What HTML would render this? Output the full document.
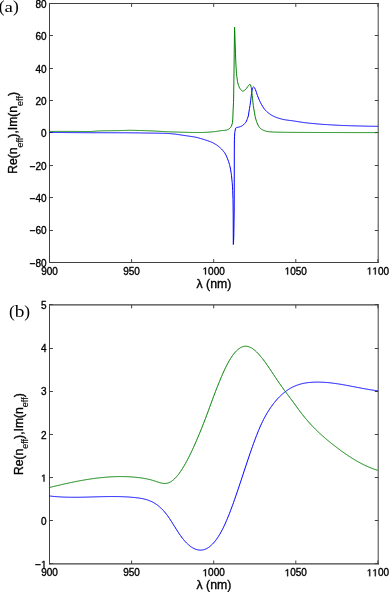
<!DOCTYPE html><html><head><meta charset="utf-8"><style>html,body{margin:0;padding:0;background:#fff;}svg{display:block;will-change:transform;}.t{font-family:"Liberation Sans",sans-serif;font-size:10px;fill:#000;stroke:#000;stroke-width:0.35px;}.l{font-family:"Liberation Sans",sans-serif;font-size:12px;fill:#000;stroke:#000;stroke-width:0.35px;}.s{font-size:9px;stroke-width:0.15px;}.p{font-family:"Liberation Serif",serif;font-size:17px;fill:#000;}</style></head><body>
<svg width="389" height="592" viewBox="0 0 389 592">
<path d="M49.5 3V263M378.2 3V263" fill="none" stroke="#404040" stroke-width="1"/>
<path d="M49.0 3.5H378.7" fill="none" stroke="#404040" stroke-width="1"/>
<path d="M49.0 262.5H378.7" fill="none" stroke="#404040" stroke-width="1"/>
<path d="M49.5 262.5v-3.4M49.5 3.5v3.4M131.6 262.5v-3.4M131.6 3.5v3.4M213.7 262.5v-3.4M213.7 3.5v3.4M295.8 262.5v-3.4M295.8 3.5v3.4M377.9 262.5v-3.4M377.9 3.5v3.4M49.5 3.5h3.4M378.2 3.5h-3.4M49.5 35.5h3.4M378.2 35.5h-3.4M49.5 68.5h3.4M378.2 68.5h-3.4M49.5 100.5h3.4M378.2 100.5h-3.4M49.5 132.5h3.4M378.2 132.5h-3.4M49.5 165.5h3.4M378.2 165.5h-3.4M49.5 197.5h3.4M378.2 197.5h-3.4M49.5 230.5h3.4M378.2 230.5h-3.4M49.5 262.5h3.4M378.2 262.5h-3.4" fill="none" stroke="#404040" stroke-width="1"/>
<text x="49.5" y="274.5" text-anchor="middle" class="t">900</text>
<text x="131.6" y="274.5" text-anchor="middle" class="t">950</text>
<text x="213.7" y="274.5" text-anchor="middle" class="t"> 000</text>
<path transform="translate(202.58,274.5) scale(0.004883,-0.004883)" d="M515 0L515 1237L197 1010L197 1180L530 1409L696 1409L696 0Z" fill="#000" stroke="#000" stroke-width="71.7"/>
<text x="295.8" y="274.5" text-anchor="middle" class="t"> 050</text>
<path transform="translate(284.68,274.5) scale(0.004883,-0.004883)" d="M515 0L515 1237L197 1010L197 1180L530 1409L696 1409L696 0Z" fill="#000" stroke="#000" stroke-width="71.7"/>
<text x="377.9" y="274.5" text-anchor="middle" class="t">  00</text>
<path transform="translate(366.78,274.5) scale(0.004883,-0.004883)" d="M515 0L515 1237L197 1010L197 1180L530 1409L696 1409L696 0Z" fill="#000" stroke="#000" stroke-width="71.7"/>
<path transform="translate(372.34,274.5) scale(0.004883,-0.004883)" d="M515 0L515 1237L197 1010L197 1180L530 1409L696 1409L696 0Z" fill="#000" stroke="#000" stroke-width="71.7"/>
<text x="46.6" y="7.8" text-anchor="end" class="t">80</text>
<text x="46.6" y="40.17" text-anchor="end" class="t">60</text>
<text x="46.6" y="72.55" text-anchor="end" class="t">40</text>
<text x="46.6" y="104.92" text-anchor="end" class="t">20</text>
<text x="46.6" y="137.3" text-anchor="end" class="t">0</text>
<text x="46.6" y="169.68" text-anchor="end" class="t">−20</text>
<text x="46.6" y="202.05" text-anchor="end" class="t">−40</text>
<text x="46.6" y="234.43" text-anchor="end" class="t">−60</text>
<text x="46.6" y="266.8" text-anchor="end" class="t">−80</text>
<text x="213.9" y="288.2" text-anchor="middle" class="l" style="font-size:12.3px">λ (nm)</text>
<text transform="translate(17.0,132.95) rotate(-90)" text-anchor="middle" class="l" style="font-size:12.15px">Re(n<tspan class="s" dy="5.5">eff</tspan><tspan dy="-5.5">),Im(n</tspan><tspan class="s" dy="5.5">eff</tspan><tspan dy="-5.5">)</tspan></text>
<path d="M49.5 304.26V564.52M378.2 304.26V564.52" fill="none" stroke="#404040" stroke-width="1"/>
<path d="M49.0 304.93H378.7" fill="none" stroke="#404040" stroke-width="1.34"/>
<path d="M49.0 563.9H378.7" fill="none" stroke="#404040" stroke-width="1.25"/>
<path d="M49.5 563.9v-3.4M49.5 304.93v3.4M131.6 563.9v-3.4M131.6 304.93v3.4M213.7 563.9v-3.4M213.7 304.93v3.4M295.8 563.9v-3.4M295.8 304.93v3.4M377.9 563.9v-3.4M377.9 304.93v3.4M49.5 304.5h3.4M378.2 304.5h-3.4M49.5 348.5h3.4M378.2 348.5h-3.4M49.5 391.5h3.4M378.2 391.5h-3.4M49.5 434.5h3.4M378.2 434.5h-3.4M49.5 477.5h3.4M378.2 477.5h-3.4M49.5 520.5h3.4M378.2 520.5h-3.4M49.5 563.5h3.4M378.2 563.5h-3.4" fill="none" stroke="#404040" stroke-width="1"/>
<text x="49.5" y="576.2" text-anchor="middle" class="t">900</text>
<text x="131.6" y="576.2" text-anchor="middle" class="t">950</text>
<text x="213.7" y="576.2" text-anchor="middle" class="t"> 000</text>
<path transform="translate(202.58,576.2) scale(0.004883,-0.004883)" d="M515 0L515 1237L197 1010L197 1180L530 1409L696 1409L696 0Z" fill="#000" stroke="#000" stroke-width="71.7"/>
<text x="295.8" y="576.2" text-anchor="middle" class="t"> 050</text>
<path transform="translate(284.68,576.2) scale(0.004883,-0.004883)" d="M515 0L515 1237L197 1010L197 1180L530 1409L696 1409L696 0Z" fill="#000" stroke="#000" stroke-width="71.7"/>
<text x="377.9" y="576.2" text-anchor="middle" class="t">  00</text>
<path transform="translate(366.78,576.2) scale(0.004883,-0.004883)" d="M515 0L515 1237L197 1010L197 1180L530 1409L696 1409L696 0Z" fill="#000" stroke="#000" stroke-width="71.7"/>
<path transform="translate(372.34,576.2) scale(0.004883,-0.004883)" d="M515 0L515 1237L197 1010L197 1180L530 1409L696 1409L696 0Z" fill="#000" stroke="#000" stroke-width="71.7"/>
<text x="46.6" y="309.29" text-anchor="end" class="t">5</text>
<text x="46.6" y="352.37" text-anchor="end" class="t">4</text>
<text x="46.6" y="395.45" text-anchor="end" class="t">3</text>
<text x="46.6" y="438.53" text-anchor="end" class="t">2</text>
<text x="46.6" y="481.62" text-anchor="end" class="t"> </text>
<path transform="translate(41.04,481.62) scale(0.004883,-0.004883)" d="M515 0L515 1237L197 1010L197 1180L530 1409L696 1409L696 0Z" fill="#000" stroke="#000" stroke-width="71.7"/>
<text x="46.6" y="524.7" text-anchor="end" class="t">0</text>
<text x="46.6" y="567.78" text-anchor="end" class="t">− </text>
<path transform="translate(41.04,567.78) scale(0.004883,-0.004883)" d="M515 0L515 1237L197 1010L197 1180L530 1409L696 1409L696 0Z" fill="#000" stroke="#000" stroke-width="71.7"/>
<text x="213.9" y="589.3" text-anchor="middle" class="l" style="font-size:12.3px">λ (nm)</text>
<text transform="translate(22.6,434.2) rotate(-90)" text-anchor="middle" class="l" style="font-size:12.15px">Re(n<tspan class="s" dy="5.5">eff</tspan><tspan dy="-5.5">),Im(n</tspan><tspan class="s" dy="5.5">eff</tspan><tspan dy="-5.5">)</tspan></text>
<polyline points="49.5,132.4 50.5,132.41 51.5,132.42 52.5,132.43 53.5,132.44 54.5,132.45 55.5,132.46 56.5,132.47 57.5,132.48 58.5,132.49 59.5,132.5 60.5,132.51 61.5,132.52 62.5,132.52 63.5,132.53 64.5,132.54 65.5,132.55 66.5,132.56 67.5,132.57 68.5,132.58 69.5,132.58 70.5,132.59 71.5,132.6 72.5,132.61 73.5,132.61 74.5,132.62 75.5,132.63 76.5,132.63 77.5,132.64 78.5,132.65 79.5,132.65 80.5,132.66 81.5,132.67 82.5,132.67 83.5,132.68 84.5,132.68 85.5,132.69 86.5,132.69 87.5,132.69 88.5,132.7 89,132.7 89.5,132.7 90.5,132.71 91.5,132.71 92.5,132.71 93.5,132.71 94.5,132.72 95.5,132.72 96.5,132.72 97.5,132.72 98.5,132.73 99.5,132.73 100.5,132.73 101.5,132.73 102.5,132.73 103.5,132.74 104.5,132.74 105.5,132.74 106.5,132.74 107.5,132.74 108.5,132.74 109.5,132.75 110.5,132.75 111.5,132.75 112.5,132.75 113.5,132.75 114.5,132.75 115.5,132.76 116.5,132.76 117.5,132.76 118.5,132.76 119.5,132.76 120.5,132.77 121.5,132.77 122.5,132.77 123.5,132.78 124.5,132.78 125.5,132.78 126.5,132.79 127.5,132.79 128.5,132.79 129.5,132.8 130,132.8 130.5,132.8 131.5,132.81 132.5,132.82 133.5,132.83 134.5,132.84 135.5,132.85 136.5,132.87 137.5,132.88 138.5,132.9 139.5,132.92 140.5,132.93 141.5,132.95 142.5,132.97 143.5,132.99 144.5,133.01 145.5,133.03 146.5,133.04 147.5,133.06 148.5,133.08 149.5,133.09 150,133.1 150.5,133.11 151.5,133.12 152.5,133.13 153.5,133.14 154.5,133.16 155.5,133.17 156.5,133.18 157.5,133.19 158.5,133.2 159.5,133.22 160.5,133.23 161.5,133.25 162.5,133.27 163.5,133.29 163.9,133.3 164.5,133.32 165.5,133.35 166.5,133.4 167.5,133.46 168.5,133.53 169.5,133.6 170.5,133.68 171.5,133.76 172.5,133.85 173.1,133.9 173.5,133.94 174.5,134.04 175.5,134.17 176.5,134.3 177.5,134.45 178.5,134.6 179.5,134.76 180.5,134.92 181.5,135.07 182.4,135.2 182.5,135.21 183.5,135.36 184.5,135.5 185.5,135.64 186.5,135.78 187.5,135.93 188.5,136.08 189.5,136.22 190,136.3 190.5,136.37 191.5,136.52 192.5,136.67 193.5,136.82 194.5,136.99 195.1,137.1 195.5,137.18 196.5,137.4 197.5,137.64 198.5,137.9 199.5,138.18 200.3,138.4 200.5,138.46 201.5,138.75 202.5,139.06 203.5,139.38 204.5,139.7 205.4,140 205.5,140.03 206.5,140.36 207.5,140.68 208.5,141.01 209.5,141.37 210.5,141.76 210.6,141.8 211.5,142.19 212.5,142.65 213.5,143.15 214.5,143.69 215.5,144.28 215.7,144.4 216.5,144.92 217.5,145.63 218.5,146.41 219.5,147.24 219.8,147.5 220.5,148.12 221.5,149.08 222.5,150.14 222.9,150.6 223.5,151.32 224.5,152.63 225.5,154.2 226.5,156.26 227.5,158.74 227.6,159 228.5,161.38 229.5,164.54 229.7,165.3 230.5,169.06 231.2,173.4 231.5,175.62 232.2,182.5 232.5,186.77 232.7,190.6 233,199.7 233.2,215 233.3,244.5 233.5,242.83 233.8,236 234.2,210 234.25,180 234.3,150 234.4,139.9 234.5,136.81 234.8,132.4 235.5,128.56 235.8,128 236.5,127.66 237.5,127.4 238.5,127.14 239.5,126.91 240.2,126.7 240.5,126.59 241.5,126.15 242.5,125.57 242.9,125.3 243.5,124.78 244.5,123.71 244.6,123.6 245.5,122.66 246,122 246.5,121.01 247.1,119.5 247.5,118.5 248.3,116 248.5,114.99 249.1,111 249.5,108.59 250,105.5 250.5,102.08 250.7,100.6 251.5,93.68 251.7,92.3 252.5,88.13 252.7,87.7 253.5,87.06 253.8,87 254.5,87.69 255.3,89.3 255.5,89.73 256.5,92.67 257.4,95.4 257.5,95.66 258.5,98.18 259.5,100.52 260.5,102.6 261.5,104.49 262.5,106.26 263.5,107.84 264.5,109.18 264.6,109.3 265.5,110.3 266.5,111.31 267.5,112.21 268.5,113.02 269.5,113.76 269.7,113.9 270.5,114.44 271.5,115.08 272.5,115.66 273.5,116.19 274.5,116.67 274.8,116.8 275.5,117.09 276.5,117.48 277.5,117.83 278.5,118.15 279.5,118.45 280,118.6 280.5,118.74 281.5,119.02 282.5,119.28 283.5,119.5 284,119.6 284.5,119.69 285.5,119.86 286.5,120 287.5,120.14 288.5,120.27 289.5,120.4 290.5,120.52 291.5,120.65 292.5,120.79 292.6,120.8 293.5,120.93 294.5,121.08 295.5,121.24 296.5,121.4 297.5,121.56 298.5,121.72 299.5,121.88 300.5,122.03 301.5,122.19 302.5,122.34 303.5,122.48 304.5,122.62 305.5,122.75 306.5,122.87 306.8,122.9 307.5,122.98 308.5,123.08 309.5,123.19 310.5,123.29 311.5,123.39 312.5,123.49 313.5,123.58 314.5,123.67 315.5,123.76 316.5,123.85 317.5,123.94 318.5,124.02 319.5,124.1 320.5,124.18 321.5,124.25 322.5,124.32 323.5,124.4 324.5,124.46 325.5,124.53 326.5,124.59 326.6,124.6 327.5,124.66 328.5,124.72 329.5,124.78 330.5,124.84 331.5,124.9 332.5,124.95 333.5,125.01 334.5,125.06 335.5,125.12 336.5,125.17 337.5,125.22 338.5,125.27 339.5,125.32 340.5,125.37 341.5,125.41 342.5,125.46 343.5,125.5 344.5,125.54 345.5,125.58 346.5,125.61 347.5,125.65 348.5,125.68 349.2,125.7 349.5,125.71 350.5,125.74 351.5,125.77 352.5,125.8 353.5,125.83 354.5,125.85 355.5,125.88 356.5,125.91 357.5,125.94 358.5,125.96 359.5,125.99 360.5,126.01 361.5,126.04 362.5,126.06 363.5,126.09 364.5,126.11 365.5,126.13 366.5,126.15 367.5,126.17 368.5,126.19 369.5,126.2 370.5,126.22 371.5,126.24 372.5,126.25 373.5,126.26 374.5,126.27 375.5,126.28 376.5,126.29 377.5,126.3 378,126.3" fill="none" stroke="#0000ff" stroke-width="1" stroke-linejoin="round"/>
<polyline points="49.5,131.4 50.5,131.4 51.5,131.4 52.5,131.4 53.5,131.4 54.5,131.4 55.5,131.4 56.5,131.4 57.5,131.4 58.5,131.4 59.5,131.4 60.5,131.4 61.5,131.4 62.5,131.4 63.5,131.4 64.5,131.4 65.5,131.4 66.5,131.4 67.5,131.4 68.5,131.4 69.5,131.4 70,131.4 70.5,131.4 71.5,131.4 72.5,131.4 73.5,131.41 74.5,131.41 75.5,131.42 76.5,131.43 77.5,131.43 78.5,131.44 79.5,131.45 80.5,131.46 81.5,131.47 82.5,131.47 83.5,131.48 84.5,131.49 85.5,131.49 86.5,131.5 87.5,131.5 88.5,131.5 89,131.5 89.5,131.5 90.5,131.47 91.5,131.43 92.5,131.38 93.5,131.31 94.5,131.23 95.5,131.16 96.5,131.08 97.5,131.02 98.5,130.96 99.5,130.91 100,130.9 100.5,130.89 101.5,130.87 102.5,130.85 103.5,130.83 104.5,130.81 105.5,130.8 106.5,130.78 107.5,130.77 108.5,130.76 109.5,130.75 110.5,130.73 111.5,130.72 112.5,130.71 113.5,130.7 114.5,130.69 115.5,130.68 116.5,130.66 117.5,130.65 118.5,130.63 119.5,130.61 120,130.6 120.5,130.59 121.5,130.56 122.5,130.52 123.5,130.48 124.5,130.44 125.5,130.4 126.5,130.37 127.5,130.34 128.5,130.31 129.5,130.3 130,130.3 130.5,130.3 131.5,130.31 132.5,130.32 133.5,130.33 134.5,130.35 135.5,130.38 136.5,130.4 137.5,130.43 138.5,130.46 139.5,130.49 140.5,130.52 141.5,130.55 142.5,130.59 143,130.6 143.5,130.61 144.5,130.65 145.5,130.68 146.5,130.72 147.5,130.75 148.5,130.79 149.5,130.83 150.5,130.88 151.5,130.92 152.5,130.96 153.4,131 153.5,131 154.5,131.05 155.5,131.1 156.5,131.15 157.5,131.2 158.5,131.26 159.5,131.31 160.5,131.37 161.5,131.43 162.5,131.48 163.5,131.54 164.5,131.59 165.5,131.65 166.5,131.7 167.5,131.75 168.5,131.79 169.5,131.83 170.5,131.87 171.4,131.9 171.5,131.9 172.5,131.93 173.5,131.96 174.5,131.99 175.5,132.03 176.5,132.06 177.5,132.09 178.5,132.11 179.5,132.14 180.5,132.17 181.5,132.2 182.5,132.23 183.5,132.25 184.5,132.28 185.5,132.3 186.5,132.33 187.5,132.35 188.5,132.37 189.5,132.39 190.5,132.41 191.5,132.43 192.5,132.44 193.5,132.46 194.5,132.47 195.5,132.48 196.5,132.49 197.5,132.49 198.5,132.5 199.5,132.5 200,132.5 200.5,132.5 201.5,132.49 202.5,132.46 203.5,132.43 204.5,132.39 205.5,132.34 206.5,132.28 207.5,132.22 208.5,132.15 209.5,132.07 210.5,131.99 211.5,131.91 212.5,131.83 213.5,131.74 214,131.7 214.5,131.65 215.5,131.53 216.5,131.39 217.5,131.23 218.5,131.07 219.5,130.9 220.5,130.75 221.5,130.62 221.7,130.6 222.5,130.52 223.5,130.45 224.5,130.38 225.5,130.27 226,130.2 226.5,130.09 227.5,129.73 228.5,129.22 228.7,129.1 229.5,128.55 230.5,127.53 231.1,126.7 231.5,125.99 232.4,123 232.5,122.37 232.8,118.9 233.1,110.1 233.5,102.74 233.6,100 233.9,80 234.1,63 234.5,29.66 234.6,27.2 235.2,45 235.5,53.74 235.7,59.1 236.1,68 236.5,73.54 236.8,76.5 237.5,81.36 238.1,84.1 238.5,85.39 239.5,87.84 240.1,88.8 240.5,89.31 241.5,90.43 242.5,91.06 242.8,91.1 243.5,90.94 244.5,90.32 245.5,89.5 246.5,88.31 247.5,86.92 247.6,86.8 248.5,85.6 249.5,84.49 250,84.3 250.5,84.93 251.2,87.2 251.5,88.98 252.2,95.4 252.5,98.24 253.3,105.7 253.5,107.04 254.2,111 254.5,112.83 255.2,116.8 255.5,118.06 256.5,121.47 256.8,122.3 257.5,124.04 258.5,126.05 258.8,126.5 259.5,127.4 260.5,128.46 261.5,129.26 261.9,129.5 262.5,129.81 263.5,130.29 264.5,130.7 265.5,131.05 266.5,131.33 267.5,131.53 268,131.6 268.5,131.66 269.5,131.76 270.5,131.86 271.5,131.93 272.5,132 273.5,132.05 274.5,132.09 275,132.1 275.5,132.11 276.5,132.14 277.5,132.16 278.5,132.18 279.5,132.2 280.5,132.22 281.5,132.23 282.5,132.25 283.5,132.27 284.5,132.28 285.5,132.29 286.5,132.31 287.5,132.32 288.5,132.33 289.5,132.34 290.5,132.35 291.5,132.36 292.5,132.36 293.5,132.37 294.5,132.38 295.5,132.39 296.5,132.39 297.5,132.4 298.3,132.4 298.5,132.4 299.5,132.41 300.5,132.41 301.5,132.42 302.5,132.42 303.5,132.42 304.5,132.43 305.5,132.43 306.5,132.44 307.5,132.44 308.5,132.45 309.5,132.45 310.5,132.45 311.5,132.46 312.5,132.46 313.5,132.47 314.5,132.47 315.5,132.47 316.5,132.48 317.5,132.48 318.5,132.49 319.5,132.49 320.5,132.49 321.5,132.5 322.5,132.5 323.5,132.5 324.5,132.51 325.5,132.51 326.5,132.51 327.5,132.52 328.5,132.52 329.5,132.52 330.5,132.53 331.5,132.53 332.5,132.53 333.5,132.54 334.5,132.54 335.5,132.54 336.5,132.54 337.5,132.55 338.5,132.55 339.5,132.55 340.5,132.55 341.5,132.56 342.5,132.56 343.5,132.56 344.5,132.56 345.5,132.56 346.5,132.57 347.5,132.57 348.5,132.57 349.5,132.57 350.5,132.57 351.5,132.58 352.5,132.58 353.5,132.58 354.5,132.58 355.5,132.58 356.5,132.58 357.5,132.59 358.5,132.59 359.5,132.59 360.5,132.59 361.5,132.59 362.5,132.59 363.5,132.59 364.5,132.59 365.5,132.59 366.5,132.6 367.5,132.6 368.5,132.6 369.5,132.6 370.5,132.6 371.5,132.6 372.5,132.6 373.5,132.6 374.5,132.6 375.5,132.6 376.5,132.6 377.5,132.6 378,132.6" fill="none" stroke="#008000" stroke-width="1" stroke-linejoin="round"/>
<polyline points="49.5,495.96 50.5,496.08 51.5,496.19 52.5,496.3 53.5,496.4 54.5,496.49 55.5,496.58 56.5,496.66 57.5,496.73 58.5,496.8 59.5,496.86 60.5,496.92 61.5,496.98 62.5,497.02 63.5,497.07 64.5,497.11 65.5,497.14 66.5,497.17 67.5,497.2 68.5,497.22 69.5,497.24 70.5,497.25 71.5,497.26 72.5,497.27 73.5,497.27 74.5,497.27 75.5,497.27 76.5,497.27 77.5,497.26 78.5,497.25 79.5,497.24 80.5,497.22 81.5,497.21 82.5,497.19 83.5,497.17 84.5,497.15 85.5,497.12 86.5,497.1 87.5,497.07 88.5,497.05 89.5,497.02 90.5,496.99 91.5,496.96 92.5,496.94 93.5,496.91 94.5,496.88 95.5,496.85 96.5,496.82 97.5,496.79 98.5,496.77 99.5,496.74 100.5,496.72 101.5,496.69 102.5,496.67 103.5,496.65 104.5,496.63 105.5,496.61 106.5,496.59 107.5,496.58 108.5,496.57 109.5,496.56 110.5,496.55 111.5,496.54 112.5,496.54 113.5,496.54 114.5,496.55 115.5,496.55 116.5,496.57 117.5,496.58 118.5,496.6 119.5,496.62 120.5,496.65 121.5,496.68 122.5,496.71 123.5,496.75 124.5,496.8 125.5,496.84 126.5,496.9 127.5,496.96 128.5,497.02 129.5,497.09 130.5,497.17 131.5,497.25 132.5,497.33 133.5,497.43 134.5,497.53 135.5,497.63 136.5,497.75 137.5,497.87 138.5,498 139.5,498.14 140.5,498.29 141.5,498.47 142.5,498.66 143.5,498.87 144.5,499.11 145.5,499.37 146.5,499.65 147.5,499.97 148.5,500.32 149.5,500.7 150.5,501.11 151.5,501.56 152.5,502.06 153.5,502.59 154.5,503.17 155.5,503.8 156.5,504.47 157.5,505.19 158.5,505.97 159.5,506.8 160.5,507.68 161.5,508.63 162.5,509.63 163.5,510.7 164.5,511.84 165.5,513.04 166.5,514.31 167.5,515.65 168.5,517.06 169.5,518.53 170.5,520.04 171.5,521.6 172.5,523.18 173.5,524.78 174.5,526.38 175.5,527.98 176.5,529.58 177.5,531.15 178.5,532.68 179.5,534.18 180.5,535.62 181.5,537.01 182.5,538.32 183.5,539.57 184.5,540.75 185.5,541.87 186.5,542.92 187.5,543.89 188.5,544.8 189.5,545.64 190.5,546.41 191.5,547.11 192.5,547.74 193.5,548.3 194.5,548.78 195.5,549.19 196.5,549.53 197.5,549.79 198.5,549.98 199.5,550.09 200.5,550.12 201.5,550.07 202.5,549.95 203.5,549.74 204.5,549.45 205.5,549.08 206.5,548.63 207.5,548.09 208.5,547.46 209.5,546.75 210.5,545.96 211.5,545.07 212.5,544.1 213.5,543.04 214.5,541.88 215.5,540.64 216.5,539.3 217.5,537.87 218.5,536.34 219.5,534.72 220.5,533 221.5,531.18 222.5,529.27 223.5,527.26 224.5,525.15 225.5,522.94 226.5,520.65 227.5,518.28 228.5,515.83 229.5,513.3 230.5,510.71 231.5,508.05 232.5,505.34 233.5,502.57 234.5,499.75 235.5,496.89 236.5,493.99 237.5,491.06 238.5,488.1 239.5,485.12 240.5,482.11 241.5,479.09 242.5,476.07 243.5,473.04 244.5,470.01 245.5,466.98 246.5,463.97 247.5,460.97 248.5,458 249.5,455.04 250.5,452.12 251.5,449.24 252.5,446.4 253.5,443.61 254.5,440.87 255.5,438.2 256.5,435.59 257.5,433.05 258.5,430.59 259.5,428.21 260.5,425.92 261.5,423.73 262.5,421.63 263.5,419.62 264.5,417.7 265.5,415.86 266.5,414.1 267.5,412.42 268.5,410.81 269.5,409.26 270.5,407.77 271.5,406.35 272.5,404.98 273.5,403.66 274.5,402.39 275.5,401.17 276.5,400.01 277.5,398.88 278.5,397.81 279.5,396.78 280.5,395.8 281.5,394.86 282.5,393.97 283.5,393.11 284.5,392.3 285.5,391.53 286.5,390.8 287.5,390.1 288.5,389.44 289.5,388.82 290.5,388.24 291.5,387.68 292.5,387.17 293.5,386.68 294.5,386.22 295.5,385.8 296.5,385.4 297.5,385.04 298.5,384.69 299.5,384.38 300.5,384.09 301.5,383.83 302.5,383.59 303.5,383.37 304.5,383.17 305.5,382.99 306.5,382.84 307.5,382.7 308.5,382.57 309.5,382.47 310.5,382.38 311.5,382.3 312.5,382.24 313.5,382.19 314.5,382.15 315.5,382.13 316.5,382.11 317.5,382.1 318.5,382.11 319.5,382.12 320.5,382.15 321.5,382.18 322.5,382.23 323.5,382.28 324.5,382.34 325.5,382.41 326.5,382.49 327.5,382.57 328.5,382.67 329.5,382.77 330.5,382.87 331.5,382.99 332.5,383.11 333.5,383.24 334.5,383.37 335.5,383.51 336.5,383.65 337.5,383.8 338.5,383.96 339.5,384.11 340.5,384.28 341.5,384.44 342.5,384.61 343.5,384.79 344.5,384.97 345.5,385.15 346.5,385.33 347.5,385.51 348.5,385.7 349.5,385.89 350.5,386.08 351.5,386.27 352.5,386.46 353.5,386.66 354.5,386.85 355.5,387.04 356.5,387.24 357.5,387.43 358.5,387.62 359.5,387.81 360.5,388 361.5,388.19 362.5,388.38 363.5,388.56 364.5,388.74 365.5,388.92 366.5,389.1 367.5,389.27 368.5,389.44 369.5,389.61 370.5,389.77 371.5,389.93 372.5,390.08 373.5,390.23 374.5,390.37 375.5,390.51 376.5,390.64 377.5,390.77 378,390.83" fill="none" stroke="#0000ff" stroke-width="1" stroke-linejoin="round"/>
<polyline points="49.5,487.51 50.5,487.26 51.5,487.01 52.5,486.77 53.5,486.52 54.5,486.28 55.5,486.04 56.5,485.8 57.5,485.56 58.5,485.32 59.5,485.09 60.5,484.86 61.5,484.62 62.5,484.39 63.5,484.17 64.5,483.94 65.5,483.71 66.5,483.49 67.5,483.27 68.5,483.06 69.5,482.84 70.5,482.63 71.5,482.42 72.5,482.21 73.5,482 74.5,481.8 75.5,481.6 76.5,481.41 77.5,481.21 78.5,481.02 79.5,480.83 80.5,480.65 81.5,480.47 82.5,480.29 83.5,480.11 84.5,479.94 85.5,479.77 86.5,479.61 87.5,479.45 88.5,479.29 89.5,479.13 90.5,478.98 91.5,478.84 92.5,478.7 93.5,478.56 94.5,478.42 95.5,478.29 96.5,478.17 97.5,478.04 98.5,477.93 99.5,477.81 100.5,477.71 101.5,477.6 102.5,477.5 103.5,477.41 104.5,477.32 105.5,477.23 106.5,477.15 107.5,477.08 108.5,477.01 109.5,476.94 110.5,476.88 111.5,476.83 112.5,476.78 113.5,476.73 114.5,476.69 115.5,476.66 116.5,476.63 117.5,476.61 118.5,476.6 119.5,476.59 120.5,476.58 121.5,476.58 122.5,476.59 123.5,476.6 124.5,476.62 125.5,476.65 126.5,476.68 127.5,476.72 128.5,476.76 129.5,476.81 130.5,476.87 131.5,476.94 132.5,477.01 133.5,477.08 134.5,477.17 135.5,477.26 136.5,477.36 137.5,477.46 138.5,477.58 139.5,477.7 140.5,477.83 141.5,477.97 142.5,478.12 143.5,478.28 144.5,478.46 145.5,478.64 146.5,478.84 147.5,479.05 148.5,479.27 149.5,479.51 150.5,479.76 151.5,480.03 152.5,480.31 153.5,480.61 154.5,480.93 155.5,481.26 156.5,481.6 157.5,481.93 158.5,482.26 159.5,482.56 160.5,482.84 161.5,483.07 162.5,483.26 163.5,483.39 164.5,483.45 165.5,483.43 166.5,483.33 167.5,483.13 168.5,482.83 169.5,482.42 170.5,481.9 171.5,481.29 172.5,480.57 173.5,479.75 174.5,478.85 175.5,477.85 176.5,476.76 177.5,475.58 178.5,474.32 179.5,472.99 180.5,471.57 181.5,470.08 182.5,468.52 183.5,466.88 184.5,465.19 185.5,463.42 186.5,461.6 187.5,459.72 188.5,457.78 189.5,455.79 190.5,453.75 191.5,451.66 192.5,449.53 193.5,447.35 194.5,445.14 195.5,442.89 196.5,440.6 197.5,438.27 198.5,435.91 199.5,433.51 200.5,431.07 201.5,428.6 202.5,426.1 203.5,423.56 204.5,420.98 205.5,418.38 206.5,415.73 207.5,413.06 208.5,410.36 209.5,407.63 210.5,404.89 211.5,402.16 212.5,399.43 213.5,396.74 214.5,394.07 215.5,391.46 216.5,388.89 217.5,386.37 218.5,383.88 219.5,381.44 220.5,379.02 221.5,376.65 222.5,374.33 223.5,372.07 224.5,369.89 225.5,367.79 226.5,365.78 227.5,363.85 228.5,362.02 229.5,360.28 230.5,358.63 231.5,357.08 232.5,355.63 233.5,354.27 234.5,353.02 235.5,351.87 236.5,350.82 237.5,349.88 238.5,349.04 239.5,348.31 240.5,347.68 241.5,347.17 242.5,346.76 243.5,346.47 244.5,346.28 245.5,346.21 246.5,346.25 247.5,346.4 248.5,346.65 249.5,347 250.5,347.45 251.5,347.98 252.5,348.61 253.5,349.31 254.5,350.1 255.5,350.96 256.5,351.88 257.5,352.88 258.5,353.93 259.5,355.05 260.5,356.21 261.5,357.43 262.5,358.69 263.5,359.99 264.5,361.33 265.5,362.71 266.5,364.11 267.5,365.54 268.5,366.99 269.5,368.46 270.5,369.95 271.5,371.45 272.5,372.96 273.5,374.47 274.5,375.98 275.5,377.49 276.5,378.99 277.5,380.49 278.5,381.96 279.5,383.43 280.5,384.87 281.5,386.28 282.5,387.68 283.5,389.05 284.5,390.41 285.5,391.76 286.5,393.1 287.5,394.43 288.5,395.76 289.5,397.09 290.5,398.43 291.5,399.77 292.5,401.12 293.5,402.49 294.5,403.87 295.5,405.26 296.5,406.65 297.5,408.03 298.5,409.4 299.5,410.75 300.5,412.09 301.5,413.39 302.5,414.67 303.5,415.93 304.5,417.16 305.5,418.37 306.5,419.55 307.5,420.72 308.5,421.86 309.5,422.98 310.5,424.08 311.5,425.16 312.5,426.22 313.5,427.26 314.5,428.28 315.5,429.29 316.5,430.27 317.5,431.25 318.5,432.2 319.5,433.14 320.5,434.07 321.5,434.98 322.5,435.87 323.5,436.76 324.5,437.63 325.5,438.49 326.5,439.34 327.5,440.18 328.5,441.01 329.5,441.82 330.5,442.63 331.5,443.43 332.5,444.23 333.5,445.01 334.5,445.79 335.5,446.56 336.5,447.33 337.5,448.09 338.5,448.84 339.5,449.58 340.5,450.32 341.5,451.05 342.5,451.77 343.5,452.48 344.5,453.18 345.5,453.87 346.5,454.56 347.5,455.23 348.5,455.9 349.5,456.56 350.5,457.2 351.5,457.84 352.5,458.47 353.5,459.09 354.5,459.69 355.5,460.29 356.5,460.87 357.5,461.44 358.5,462.01 359.5,462.56 360.5,463.09 361.5,463.62 362.5,464.13 363.5,464.64 364.5,465.13 365.5,465.6 366.5,466.07 367.5,466.52 368.5,466.95 369.5,467.38 370.5,467.79 371.5,468.18 372.5,468.56 373.5,468.93 374.5,469.28 375.5,469.62 376.5,469.94 377.5,470.25 378,470.4" fill="none" stroke="#008000" stroke-width="1" stroke-linejoin="round"/>
<text x="-1.37" y="12.1" class="p" style="font-size:17.4px">(</text>
<text transform="translate(4.44,11.7) scale(1.22,1)" class="p" style="font-size:15.5px">a</text>
<text x="13.04" y="12.1" class="p" style="font-size:17.4px">)</text>
<text x="8.93" y="317.1" class="p" style="font-size:17.4px">(</text>
<text transform="translate(14.85,317.1) scale(1.14,1)" class="p" style="font-size:17px">b</text>
<text x="24.19" y="317.1" class="p" style="font-size:17.4px">)</text>
</svg></body></html>
